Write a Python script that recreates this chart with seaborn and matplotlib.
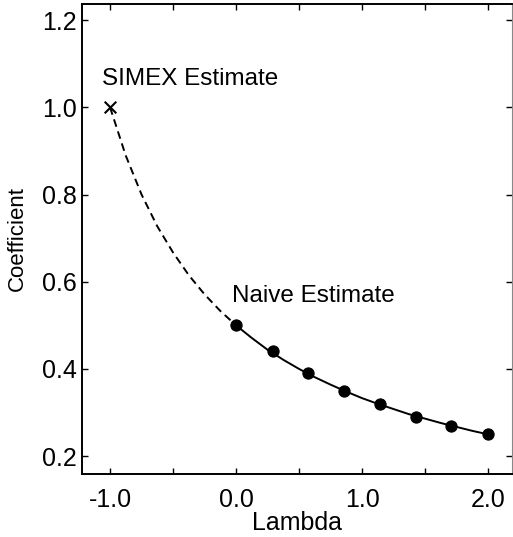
import matplotlib
matplotlib.use("Agg")
import matplotlib.pyplot as plt
import seaborn as sns
import pandas as pd

# SIMEX remeasurement: naive coefficient estimates at each added-error level lambda
lam_points = [0.0, 0.29, 0.57, 0.86, 1.14, 1.43, 1.71, 2.0]
coef_points = [0.50, 0.44, 0.39, 0.35, 0.32, 0.29, 0.27, 0.25]

# fitted extrapolant, solid over the simulated range
fit_lam = [0.0, 0.125, 0.25, 0.375, 0.5, 0.625, 0.75, 0.875, 1.0,
           1.125, 1.25, 1.375, 1.5, 1.625, 1.75, 1.875, 2.0]
fit_coef = [0.500, 0.471, 0.444, 0.421, 0.400, 0.381, 0.364, 0.348, 0.333,
            0.320, 0.308, 0.296, 0.286, 0.276, 0.267, 0.258, 0.250]

# extrapolated part back to lambda = -1
ext_lam = [-1.0, -0.875, -0.75, -0.625, -0.5, -0.375, -0.25, -0.125, 0.0]
ext_coef = [1.000, 0.889, 0.800, 0.727, 0.667, 0.615, 0.571, 0.533, 0.500]

simex_lam = [-1.0]
simex_coef = [1.0]

x_ticks = [-1.0, -0.5, 0.0, 0.5, 1.0, 1.5, 2.0]
x_tick_labels = ["-1.0", "", "0.0", "", "1.0", "", "2.0"]
y_ticks = [0.2, 0.4, 0.6, 0.8, 1.0, 1.2]
y_tick_labels = ["0.2", "0.4", "0.6", "0.8", "1.0", "1.2"]

sns.set_theme(style="ticks")
plt.rcParams["font.family"] = ["Liberation Sans", "DejaVu Sans"]
plt.rcParams["text.color"] = "black"
plt.rcParams["axes.labelcolor"] = "black"

fig = plt.figure(figsize=(5.13, 5.37), dpi=100)
ax = fig.add_axes([0.160, 0.1173, 0.838, 0.8753])

fit_df = pd.DataFrame({"lam": fit_lam, "coef": fit_coef})
ext_df = pd.DataFrame({"lam": ext_lam, "coef": ext_coef})
pts_df = pd.DataFrame({"lam": lam_points, "coef": coef_points})

sns.lineplot(data=fit_df, x="lam", y="coef", ax=ax, color="black",
             linewidth=1.4, sort=False, estimator=None)
sns.lineplot(data=ext_df, x="lam", y="coef", ax=ax, color="black",
             linewidth=1.4, linestyle=(0, (4, 2.5)), sort=False, estimator=None)
sns.scatterplot(data=pts_df, x="lam", y="coef", ax=ax, color="black",
                s=65, marker="o", edgecolor="black", linewidth=0.8, zorder=5)
sns.scatterplot(x=simex_lam, y=simex_coef, ax=ax, color="black",
                s=70, marker="x", linewidth=1.5, zorder=5)

ax.text(-1.065, 1.04, "SIMEX Estimate", fontsize=17.5, color="black",
        ha="left", va="bottom")
ax.text(-0.03, 0.542, "Naive Estimate", fontsize=17.5, color="black",
        ha="left", va="bottom")

ax.set_xlim(-1.222, 2.19)
ax.set_ylim(0.159, 1.237)
ax.set_xticks(x_ticks)
ax.set_xticklabels(x_tick_labels)
ax.set_yticks(y_ticks)
ax.set_yticklabels(y_tick_labels)
ax.tick_params(direction="in", length=4, width=1, top=True, right=True,
               labelsize=18, colors="black", labelcolor="black", pad=4)
ax.tick_params(axis="x", pad=10)

ax.set_xlabel("Lambda", fontsize=18, labelpad=-1, color="black")
ax.set_ylabel("Coefficient", fontsize=16, labelpad=10, color="black")

for side in ["left", "bottom", "top"]:
    ax.spines[side].set_color("black")
    ax.spines[side].set_linewidth(1.4)
ax.spines["right"].set_color("#888888")
ax.spines["right"].set_linewidth(0.8)

fig.savefig("out.png", dpi=100)
